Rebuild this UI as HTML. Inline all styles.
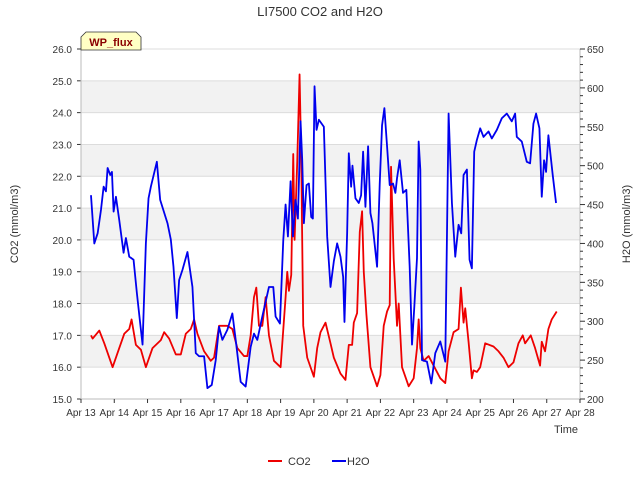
<!DOCTYPE html>
<html><head><meta charset="utf-8"><style>
body{margin:0;background:#fff}
svg{display:block;font-family:"Liberation Sans","DejaVu Sans",sans-serif}
</style></head><body>
<svg id="chart" width="640" height="480" viewBox="0 0 640 480">
<text x="320" y="16" text-anchor="middle" font-size="13" fill="#333">LI7500 CO2 and H2O</text>
<g id="bands"></g>
<g id="grid"></g>
<g id="axes"></g>
<g id="series"></g>
<text transform="translate(18,224) rotate(-90)" text-anchor="middle" font-size="11" fill="#333">CO2 (mmol/m3)</text>
<text transform="translate(630,224) rotate(-90)" text-anchor="middle" font-size="11" fill="#333">H2O (mmol/m3)</text>
<text x="578" y="433" text-anchor="end" font-size="11" fill="#333">Time</text>
<g>
<path d="M81,50 L81,37 L86,32 L136,32 L141,37 L141,50 Z" fill="#ffffc4" stroke="#333" stroke-width="0.8"/>
<text x="111" y="46" text-anchor="middle" font-size="11" font-weight="bold" fill="#8b0000">WP_flux</text>
</g>
<g>
<g><line x1="268" y1="461" x2="282" y2="461" stroke="#e00" stroke-width="2"/><text x="288" y="465" font-size="11" fill="#333">CO2</text></g>
<g><line x1="332" y1="461" x2="346" y2="461" stroke="#00e" stroke-width="2"/><text x="347" y="465" font-size="11" fill="#333">H2O</text></g>
</g>
</svg>
<script>
const xTickLabels=["Apr 13","Apr 14","Apr 15","Apr 16","Apr 17","Apr 18","Apr 19","Apr 20","Apr 21","Apr 22","Apr 23","Apr 24","Apr 25","Apr 26","Apr 27","Apr 28"];
const leftTicks=[15,16,17,18,19,20,21,22,23,24,25,26];
const rightTicks=[200,250,300,350,400,450,500,550,600,650];
const co2T=[0.3,0.35,0.55,0.7,0.95,1.15,1.3,1.45,1.52,1.65,1.8,1.95,2.15,2.4,2.5,2.65,2.85,3.0,3.15,3.3,3.4,3.5,3.7,3.9,4.0,4.15,4.4,4.55,4.7,4.9,5.0,5.1,5.2,5.27,5.35,5.45,5.55,5.65,5.8,6.0,6.15,6.2,6.25,6.32,6.38,6.42,6.5,6.57,6.62,6.68,6.8,7.0,7.1,7.2,7.35,7.5,7.6,7.8,7.95,8.05,8.15,8.2,8.3,8.38,8.45,8.5,8.58,8.7,8.9,9.0,9.1,9.2,9.28,9.32,9.4,9.5,9.55,9.65,9.85,10.0,10.1,10.15,10.2,10.3,10.45,10.6,10.8,10.95,11.05,11.2,11.35,11.42,11.5,11.55,11.65,11.75,11.8,11.9,12.0,12.15,12.4,12.55,12.7,12.85,13.0,13.15,13.28,13.35,13.52,13.65,13.8,13.85,13.95,14.05,14.15,14.3];
const co2V=[17.0,16.9,17.15,16.75,16.0,16.6,17.05,17.2,17.5,16.7,16.55,16.0,16.6,16.85,17.1,16.9,16.4,16.4,17.05,17.2,17.5,17.05,16.5,16.2,16.3,17.3,17.3,17.2,16.6,16.35,16.35,17.0,18.2,18.5,17.3,17.3,18.2,17.0,16.2,16.0,18.2,19.0,18.4,18.9,22.7,20.0,22.45,25.2,22.6,17.3,16.3,15.7,16.6,17.1,17.4,16.75,16.3,15.8,15.6,16.7,16.7,17.4,17.7,20.25,20.9,19.0,17.65,16.0,15.4,15.75,17.3,17.75,17.95,22.3,19.4,17.3,18.0,16.0,15.4,15.65,16.6,17.5,16.6,16.2,16.35,16.05,15.65,15.5,16.5,17.1,17.2,18.5,17.4,17.85,16.8,15.65,15.9,15.85,16.0,16.75,16.65,16.5,16.3,16.0,16.15,16.75,17.0,16.75,17.0,16.6,16.05,16.8,16.5,17.2,17.5,17.75];
const h2oT=[0.3,0.4,0.5,0.6,0.68,0.75,0.8,0.88,0.93,0.98,1.05,1.15,1.28,1.35,1.45,1.58,1.68,1.78,1.85,1.95,2.03,2.1,2.28,2.38,2.6,2.7,2.78,2.88,2.95,3.05,3.2,3.35,3.45,3.55,3.7,3.8,3.93,4.05,4.15,4.25,4.4,4.55,4.65,4.8,4.95,5.1,5.2,5.3,5.45,5.65,5.78,5.85,5.98,6.08,6.15,6.22,6.3,6.37,6.45,6.52,6.6,6.65,6.7,6.78,6.85,6.92,6.97,7.02,7.08,7.15,7.3,7.4,7.5,7.6,7.7,7.8,7.88,7.92,8.0,8.05,8.12,8.16,8.25,8.35,8.42,8.48,8.55,8.63,8.7,8.76,8.9,8.98,9.05,9.12,9.2,9.28,9.38,9.45,9.5,9.58,9.68,9.78,9.88,9.95,10.02,10.1,10.15,10.2,10.25,10.4,10.53,10.65,10.8,10.95,11.05,11.15,11.25,11.35,11.43,11.5,11.6,11.68,11.75,11.82,11.9,12.0,12.1,12.25,12.35,12.5,12.65,12.8,12.95,13.05,13.1,13.25,13.4,13.5,13.6,13.68,13.78,13.85,13.92,13.98,14.05,14.18,14.28];
const h2oV=[462,400,413,443,473,467,497,488,492,441,460,430,388,407,383,379,336,297,270,400,458,473,505,456,426,405,370,304,353,366,389,344,259,255,255,214,218,250,293,276,289,310,276,222,216,267,284,276,306,344,344,306,297,404,450,409,480,409,456,432,557,507,426,475,477,434,432,602,546,559,550,409,344,377,400,383,357,299,413,516,473,500,458,452,462,518,447,525,439,426,370,477,552,574,525,475,477,465,484,507,465,469,370,270,319,381,531,495,250,248,220,259,274,248,567,452,383,424,413,488,495,379,368,518,533,548,537,544,535,546,561,567,557,567,537,531,505,503,554,567,548,460,507,492,539,488,452];

const NS="http://www.w3.org/2000/svg";
const L=81,R=580,T=49,B=399;
const xS=t=>L+(R-L)*t/15;
const yL=v=>B-(B-T)*(v-15)/11;
const yR=v=>B-(B-T)*(v-200)/450;
function mk(tag,attrs,parent){const e=document.createElementNS(NS,tag);for(const k in attrs)e.setAttribute(k,attrs[k]);parent.appendChild(e);return e;}
const bands=document.getElementById('bands'),grid=document.getElementById('grid'),axes=document.getElementById('axes'),series=document.getElementById('series');
for(let v=16;v<26;v+=2){const r=mk('rect',{x:L,y:yL(v+1),width:R-L,height:yL(v)-yL(v+1),fill:'#f2f2f2'},bands);

}
leftTicks.forEach(v=>{const g=mk('line',{x1:L,x2:R,y1:yL(v),y2:yL(v),stroke:'#dcdcdc','stroke-width':1},grid);


const t=mk('text',{x:L-9,y:yL(v)+4,'text-anchor':'end','font-size':10,fill:'#333'},axes);t.textContent=v.toFixed(1);


mk('line',{x1:L-4,x2:L,y1:yL(v),y2:yL(v),stroke:'#333'},axes);});
mk('line',{x1:L,x2:L,y1:T,y2:B,stroke:'#bbb'},axes);
mk('line',{x1:R,x2:R,y1:T,y2:B,stroke:'#bbb'},axes);
mk('line',{x1:L,x2:R,y1:B,y2:B,stroke:'#bbb'},axes);
for(let v=200;v<=650;v+=10){mk('line',{x1:R,x2:R+(v%50===0?5:3),y1:yR(v),y2:yR(v),stroke:'#333'},axes);}
rightTicks.forEach(v=>{const t=mk('text',{x:R+7,y:yR(v)+4,'font-size':10,fill:'#333'},axes);t.textContent=v;

});
xTickLabels.forEach((s,i)=>{mk('line',{x1:xS(i),x2:xS(i),y1:B,y2:B+4,stroke:'#333'},axes);
const t=mk('text',{x:xS(i),y:B+17,'text-anchor':'middle','font-size':10,fill:'#333'},axes);t.textContent=s;

});
const p1=mk('polyline',{points:co2T.map((t,i)=>xS(t)+','+yL(co2V[i])).join(' '),fill:'none',stroke:'#ee0000','stroke-width':1.8,'stroke-linejoin':'round'},series);


const p2=mk('polyline',{points:h2oT.map((t,i)=>xS(t)+','+yR(h2oV[i])).join(' '),fill:'none',stroke:'#0000ee','stroke-width':1.8,'stroke-linejoin':'round'},series);


</script>
</body></html>
